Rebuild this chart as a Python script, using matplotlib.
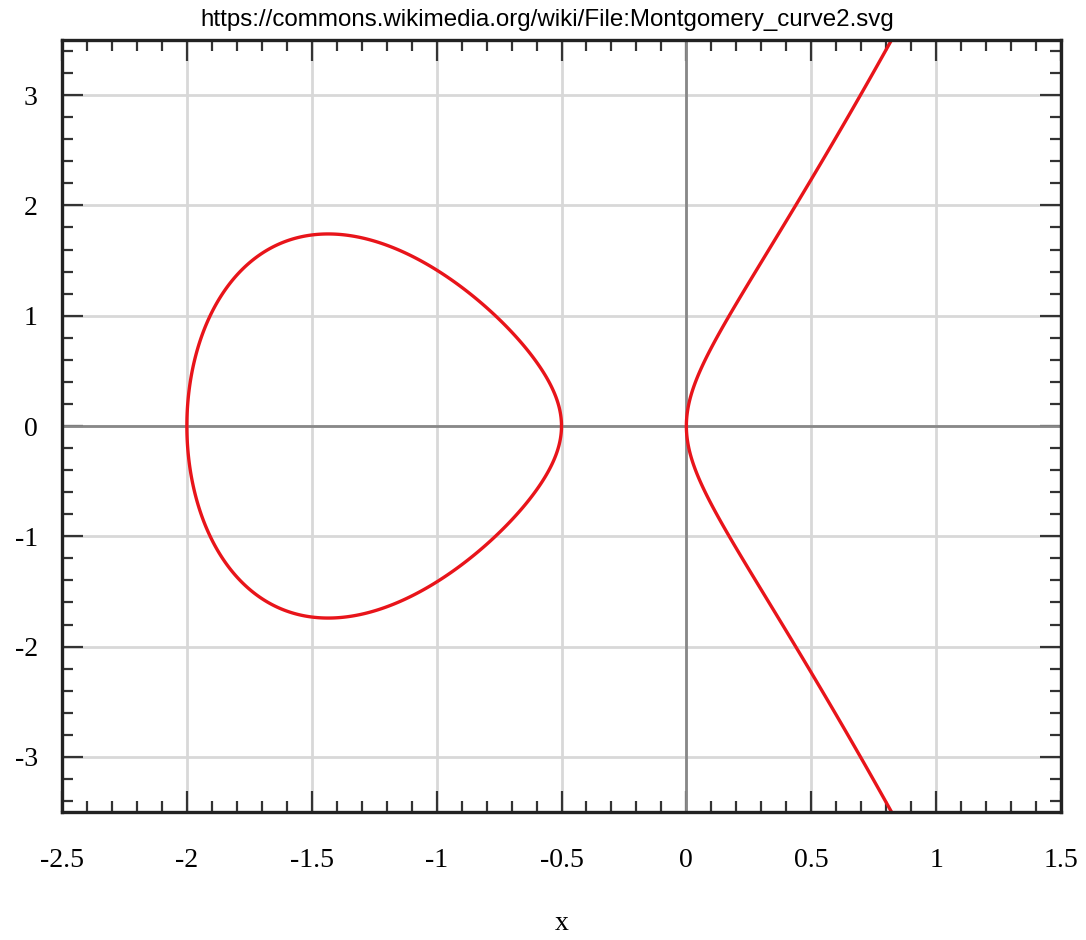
import numpy as np
import matplotlib
matplotlib.use("Agg")
import matplotlib.pyplot as plt
from matplotlib.ticker import MultipleLocator

# Montgomery curve  B*y^2 = x^3 + A*x^2 + x  (roots: x = 0, -0.5, -2)
A = 2.5
B = 0.25
x_range = [-2.5, 1.5]
y_range = [-3.5, 3.5]
x_ticks = [-2.5, -2, -1.5, -1, -0.5, 0, 0.5, 1, 1.5]
x_labels = ["-2.5", "-2", "-1.5", "-1", "-0.5", "0", "0.5", "1", "1.5"]
y_ticks = [-3, -2, -1, 0, 1, 2, 3]
y_labels = ["-3", "-2", "-1", "0", "1", "2", "3"]
title = "https://commons.wikimedia.org/wiki/File:Montgomery_curve2.svg"

W, H, DPI = 1086, 940, 100
fig = plt.figure(figsize=(W / DPI, H / DPI), dpi=DPI)
ax = fig.add_axes([62 / W, 1 - 812 / H, (1061 - 62) / W, (812 - 40) / H])

serif = ["Liberation Serif", "DejaVu Serif"]

# grid
for xv in x_ticks[1:-1]:
    ax.axvline(xv, color="#d8d8d8", lw=2.0, zorder=1)
for yv in y_ticks:
    ax.axhline(yv, color="#d8d8d8", lw=2.0, zorder=1)
ax.axhline(0, color="#888888", lw=2.0, zorder=2)
ax.axvline(0, color="#888888", lw=2.0, zorder=2)

# curve as zero level of F(x, y)
gx = np.linspace(x_range[0], x_range[1], 2400)
gy = np.linspace(y_range[0], y_range[1], 2400)
X, Y = np.meshgrid(gx, gy)
F = B * Y ** 2 - (X ** 3 + A * X ** 2 + X)
ax.contour(X, Y, F, levels=[0], colors="#e8141a", linewidths=2.4, zorder=3)

ax.set_xlim(*x_range)
ax.set_ylim(*y_range)
ax.set_xticks(x_ticks)
ax.set_xticklabels(x_labels, family=serif, fontsize=20)
ax.set_yticks(y_ticks)
ax.set_yticklabels(y_labels, family=serif, fontsize=20)
ax.xaxis.set_minor_locator(MultipleLocator(0.1))
ax.yaxis.set_minor_locator(MultipleLocator(0.2))
ax.tick_params(which="both", direction="in", top=True, right=True,
               color="#333333", width=1.6)
ax.tick_params(which="major", length=15, pad=26, axis="x")
ax.tick_params(which="major", length=15, pad=17.5, axis="y")
ax.tick_params(which="minor", length=8)
for s in ax.spines.values():
    s.set_linewidth(2.4)
    s.set_color("#222222")
    s.set_zorder(5)

ax.set_xlabel("x", family=serif, fontsize=20, labelpad=27)
fig.text(0.5 + 4 / W, 1 - 20 / H, title, ha="center", va="center",
         family=["Liberation Sans", "DejaVu Sans"], fontsize=17.4)

fig.savefig("out.png", dpi=DPI)
